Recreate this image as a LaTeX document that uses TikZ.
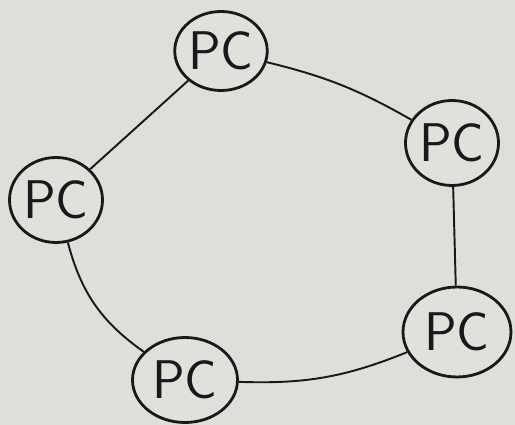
\documentclass[tikz,border=0pt]{standalone}
\usepackage{tikz}
\usetikzlibrary{shapes.geometric}
\definecolor{paper}{RGB}{222, 222, 219}
\definecolor{ink}{RGB}{25, 25, 25}

\tikzset{
  pc/.style={ellipse, draw=ink, line width=1.6pt, fill=paper!95!white,
    inner sep=0pt, font=\sffamily\fontsize{31}{34}\selectfont, text=ink},
  link/.style={ink, line width=1.1pt}
}

\begin{document}
\begin{tikzpicture}[x=0.02cm, y=-0.02cm]
  \fill[paper] (0,0) rectangle (515,425);
  \useasboundingbox (0,0) rectangle (515,425);
  % the five stations of the ring
  \node[pc, minimum width=1.76cm, minimum height=1.58cm] (top) at (221,51) {PC};
  \node[pc, minimum width=1.86cm, minimum height=1.70cm] (right) at (452,143) {PC};
  \node[pc, minimum width=2.16cm, minimum height=1.80cm] (lowright) at (457,332) {PC};
  \node[pc, minimum width=2.10cm, minimum height=1.70cm] (bottom) at (185,380) {PC};
  \node[pc, minimum width=1.86cm, minimum height=1.70cm] (left) at (56,200) {PC};
  % ring links
  \draw[link] (top) to[bend left=8] (right);
  \draw[link] (right) -- (lowright);
  \draw[link] (lowright) to[bend left=12] (bottom);
  \draw[link] (bottom) to[bend left=20] (left);
  \draw[link] (left) -- (top);
\end{tikzpicture}
\end{document}
